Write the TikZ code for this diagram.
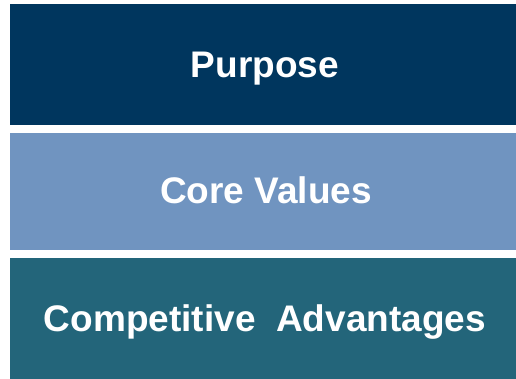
\documentclass[tikz,border=0pt]{standalone}
\usepackage{fontspec}
\setmainfont{Liberation Sans}
\definecolor{navy}{RGB}{0,54,94}
\definecolor{steel}{RGB}{112,148,192}
\definecolor{teal}{RGB}{35,101,122}
\begin{document}
\begin{tikzpicture}[x=1pt,y=-1pt,
  band/.style={draw=none},
  bandlabel/.style={anchor=base,text=white,font=\fontsize{37}{41}\selectfont\bfseries,inner sep=0pt}]
\useasboundingbox (0,0) rectangle (516,379);
% three stacked bands
\fill[band,navy]  (10,4)   rectangle (516,125);
\fill[band,steel] (10,133) rectangle (516,250);
\fill[band,teal]  (10,258) rectangle (516,379);
% labels, centred on each band
\node[bandlabel] (purpose) at (265,77.8) {Purpose};
\node[bandlabel] (values)  at (266,204.0) {Core Values};
\node[bandlabel] (advant)  at (265,331.2) {Competitive\ \ Advantages};
\end{tikzpicture}
\end{document}
